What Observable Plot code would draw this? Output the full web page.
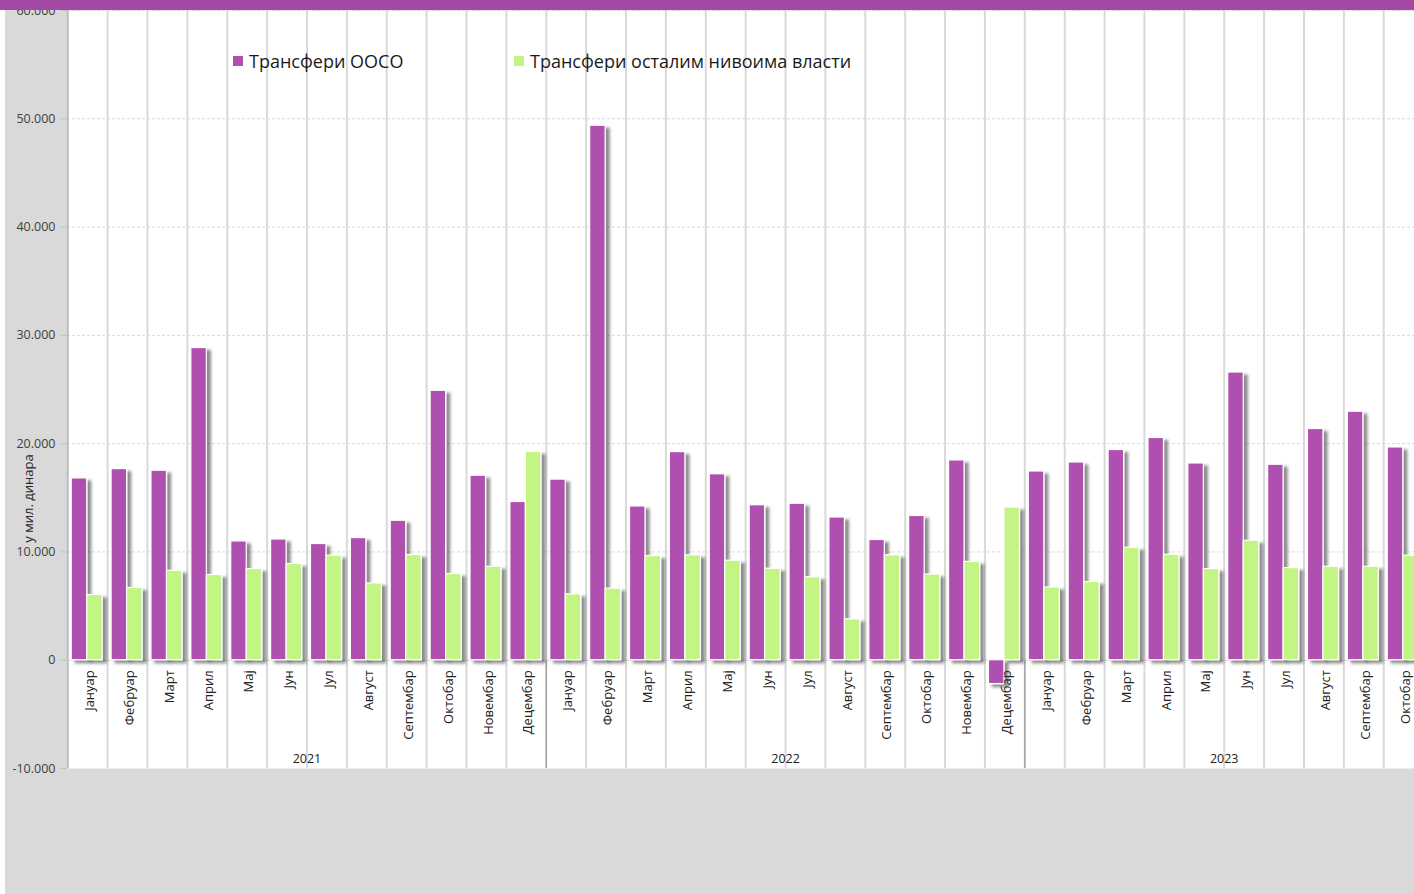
<!DOCTYPE html>
<html><head><meta charset="utf-8">
<script src="https://cdn.jsdelivr.net/npm/d3@7"></script>
<script src="https://cdn.jsdelivr.net/npm/@observablehq/plot@0.6"></script>
<style>
body{margin:0;background:#fff;}
#wrap{position:relative;width:1414px;height:894px;overflow:hidden;font-family:"Open Sans",sans-serif;}
#chart svg{display:block;}
#band{position:absolute;left:0;top:0;width:1414px;height:10px;background:#a44aa5;}
#strip{position:absolute;left:0;top:10px;width:5px;height:884px;background:#fff;}
.leg{position:absolute;top:50px;height:22px;display:flex;align-items:center;font-size:18px;color:#1a1a1a;white-space:nowrap;}
.sw{display:inline-block;width:10px;height:10px;margin-right:6px;}
</style></head><body>
<div id="wrap"><div id="chart"></div><div id="strip"></div><div id="band"></div>
<div class="leg" id="leg1" style="left:233px"><span class="sw" style="background:#af50af"></span><span>Трансфери ООСО</span></div>
<div class="leg" id="leg2" style="left:514px"><span class="sw" style="background:#c3f585"></span><span>Трансфери осталим нивоима власти</span></div>
</div>
<script>
const monthNames = ["Јануар","Фебруар","Март","Април","Мај","Јун","Јул","Август","Септембар","Октобар","Новембар","Децембар"];
const years = [2021, 2022, 2023];
const monthsPerYear = [12, 12, 10];
const seriesNames = ["Трансфери ООСО", "Трансфери осталим нивоима власти"];
const ooso = [16790,17650,17500,28830,10970,11150,10730,11280,12880,24880,17040,14610,
              16680,49360,14200,19220,17170,14310,14450,13180,11100,13320,18450,-2200,
              17430,18260,19410,20520,18170,26570,18050,21350,22950,19650];
const other = [6020,6670,8260,7870,8420,8880,9650,7090,9710,7960,8630,19250,
               6080,6610,9610,9690,9190,8450,7660,3780,9690,7910,9080,14100,
               6720,7220,10390,9740,8420,11030,8510,8630,8630,9650];
const yTicks = [-10000,0,10000,20000,30000,40000,50000,60000];
const yTitle = "у мил. динара";

const rows = [];
const yearStarts = [];
years.forEach((yr, yi) => {
  yearStarts.push(rows.length);
  for (let m = 0; m < monthsPerYear[yi]; m++) {
    const i = rows.length;
    rows.push({key: yr + "-" + (m + 1), month: monthNames[m], year: yr, ooso: ooso[i], other: other[i], first: m === 0});
  }
});
const keys = rows.map(d => d.key);
const yearLabels = years.map((yr, yi) => ({year: String(yr), key: keys[yearStarts[yi] + monthsPerYear[yi] / 2 - 1]}));

const bw = 39.88, x0 = 67.2;
const fmt = d => (d < 0 ? "-" : "") + String(Math.abs(d)).replace(/\B(?=(\d{3})+(?!\d))/g, ".");

const chart = Plot.plot({
  width: 1414, height: 894,
  marginLeft: 67, marginRight: 0, marginTop: 10, marginBottom: 126,
  style: {background: "#d9d9d9", fontFamily: "Open Sans", overflow: "hidden"},
  x: {type: "band", domain: keys, range: [x0, x0 + keys.length * bw], padding: 0, round: false, axis: null},
  y: {domain: [-10000, 60000], grid: false},
  marks: [
    Plot.frame({fill: "white", stroke: "none"}),
    Plot.ruleY(yTicks.filter(t => t > 0), {stroke: "#d9d9d9", strokeDasharray: "3,2"}),
    Plot.ruleX(rows, {x: "key", dx: -bw / 2, y1: 60000, y2: -10000, stroke: "#d9d9d9", strokeWidth: 2}),
    Plot.ruleX(rows.filter((d, i) => d.first && i > 0), {x: "key", dx: -bw / 2, y1: 0, y2: -10000, stroke: "#a6a6a6", strokeWidth: 1.5}),
    Plot.ruleX(rows.slice(0, 1), {x: "key", dx: -bw / 2, y1: 60000, y2: -10000, stroke: "#bfbfbf", strokeWidth: 2}),
    Plot.ruleY([0], {stroke: "#d0d0d0"}),
    Plot.barY(rows, {x: "key", y1: 0, y2: "ooso", fill: "#af50af", stroke: "white", strokeWidth: 1.2, insetLeft: 4, insetRight: bw - 19.5}),
    Plot.barY(rows, {x: "key", y1: 0, y2: "other", fill: "#c3f585", stroke: "white", strokeWidth: 1.2, insetLeft: 19.5, insetRight: bw - 35}),
    Plot.axisY(yTicks, {tickFormat: fmt, tickSize: 6, tickPadding: 6, fontSize: 12.5, stroke: "#bfbfbf", fill: "#404040", label: null}),
    Plot.text(rows, {x: "key", y: () => 0, text: "month", rotate: -90, textAnchor: "end", dx: 2, dy: 10, fontSize: 13, fill: "#222"}),
    Plot.text(yearLabels, {x: "key", y: () => -10000, text: "year", dx: bw / 2, dy: -10, fontSize: 12.5, fill: "#222"}),
    Plot.text([yTitle], {text: d => d, frameAnchor: "left", textAnchor: "middle", rotate: -90, dx: -38.5, dy: 109, fontSize: 13, fill: "#262626"})
  ]
});

const ns = "http://www.w3.org/2000/svg";
const defs = document.createElementNS(ns, "defs");
const filter = document.createElementNS(ns, "filter");
filter.setAttribute("id", "barshadow");
filter.setAttribute("x", "-5%"); filter.setAttribute("y", "-5%");
filter.setAttribute("width", "110%"); filter.setAttribute("height", "110%");
const ds = document.createElementNS(ns, "feDropShadow");
ds.setAttribute("dx", "4"); ds.setAttribute("dy", "3"); ds.setAttribute("stdDeviation", "1.5");
ds.setAttribute("flood-color", "#000"); ds.setAttribute("flood-opacity", "0.45");
filter.appendChild(ds); defs.appendChild(filter);
chart.insertBefore(defs, chart.firstChild);
chart.querySelectorAll('g[aria-label="bar"]').forEach(g => g.setAttribute("filter", "url(#barshadow)"));

document.getElementById("chart").appendChild(chart);
</script>
</body></html>
